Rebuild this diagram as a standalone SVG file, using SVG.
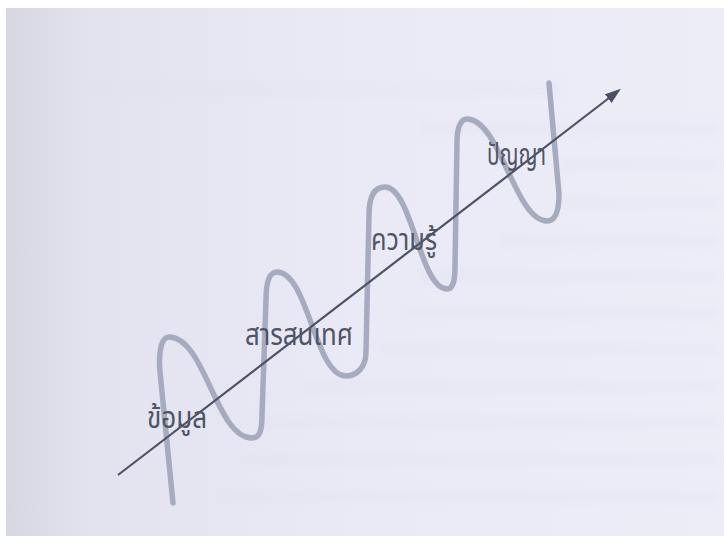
<svg xmlns="http://www.w3.org/2000/svg" width="724" height="536" viewBox="0 0 724 536">
  <defs>
    <linearGradient id="bg" x1="0" y1="0" x2="1" y2="0">
      <stop offset="0" stop-color="#d6d7e3"/>
      <stop offset="0.12" stop-color="#e3e3ef"/>
      <stop offset="0.5" stop-color="#eaeaf6"/>
      <stop offset="1" stop-color="#ededf8"/>
    </linearGradient>
    <filter id="blur" x="-10%" y="-150%" width="120%" height="400%">
      <feGaussianBlur stdDeviation="5"/>
    </filter>
    <marker id="head" markerUnits="userSpaceOnUse" markerWidth="16" markerHeight="12" refX="1" refY="6" orient="auto">
      <path d="M0,0.5 L16,6 L0,11.5 Z" fill="#4a5063"/>
    </marker>
    <style>
      .wave { fill: none; stroke: #a7abc0; stroke-width: 5.5; stroke-linecap: round; stroke-linejoin: round; }
      .arrow { fill: none; stroke: #4d5366; stroke-width: 2.2; }
      .lbl { font-family: "Noto Sans Thai", "Noto Sans", "DejaVu Sans", sans-serif; font-size: 30px; fill: #4f5466; }
      .bleed { fill: #dcdde9; opacity: 0.22; filter: url(#blur); }
    </style>
  </defs>
  <rect width="724" height="536" fill="#ffffff"/>
  <rect x="6" y="8" width="718" height="528" fill="url(#bg)"/>

  <g id="bleed-through">
    <rect class="bleed" x="90" y="82" width="470" height="14"/>
    <rect class="bleed" x="420" y="122" width="300" height="13"/>
    <rect class="bleed" x="560" y="158" width="160" height="13"/>
    <rect class="bleed" x="560" y="196" width="160" height="13"/>
    <rect class="bleed" x="500" y="234" width="220" height="13"/>
    <rect class="bleed" x="420" y="270" width="300" height="13"/>
    <rect class="bleed" x="400" y="306" width="320" height="13"/>
    <rect class="bleed" x="380" y="343" width="340" height="13"/>
    <rect class="bleed" x="300" y="380" width="420" height="13"/>
    <rect class="bleed" x="260" y="416" width="460" height="13"/>
    <rect class="bleed" x="240" y="453" width="480" height="13"/>
    <rect class="bleed" x="220" y="490" width="500" height="13"/>
  </g>

  <g id="wave">
    <path class="wave" d="M173,503 L160,372 C158,350 162,337 169,337 C205,337 216,438 252,438 C260,438 262,430 262,415 L266,300 C266,280 270,272 277,272 C308,272 315,376 346,376 C356,376 366,368 366,352 L369,215 C369,195 375,187 385,187 C412,187 420,289 447,289 C453,289 455,281 455,266 L457,142 C457,127 461,119 467,119 C500,119 515,221 547,221 C556,221 559,211 559,194 L549,83"/>
  </g>

  <g id="connectors">
    <line class="arrow" x1="118" y1="475" x2="609" y2="98" marker-end="url(#head)"/>
  </g>

  <g id="node-data">
    <text class="lbl" x="147" y="428" textLength="60" lengthAdjust="spacingAndGlyphs">ข้อมูล</text>
  </g>
  <g id="node-information">
    <text class="lbl" x="245" y="345" textLength="108" lengthAdjust="spacingAndGlyphs">สารสนเทศ</text>
  </g>
  <g id="node-knowledge">
    <text class="lbl" x="371" y="250" textLength="66" lengthAdjust="spacingAndGlyphs">ความรู้</text>
  </g>
  <g id="node-wisdom">
    <text class="lbl" x="487" y="165" textLength="59" lengthAdjust="spacingAndGlyphs">ปัญญา</text>
  </g>
</svg>
